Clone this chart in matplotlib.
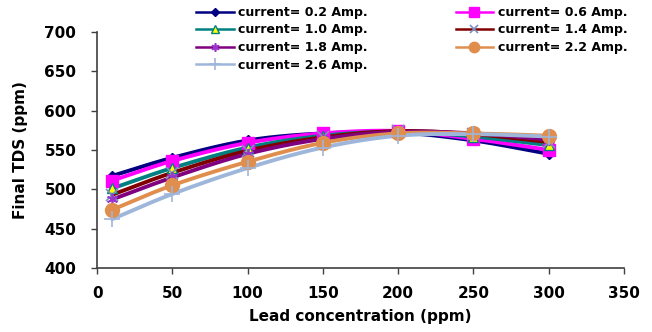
import numpy as np
import matplotlib
matplotlib.use("Agg")
import matplotlib.pyplot as plt
from matplotlib.lines import Line2D

plt.rcParams['font.family'] = ['DejaVu Sans']
plt.rcParams['font.weight'] = 'bold'

lead_ppm = [10, 50, 100, 150, 200, 250, 300]
labels = ["current= 0.2 Amp.", "current= 0.6 Amp.", "current= 1.0 Amp.",
          "current= 1.4 Amp.", "current= 1.8 Amp.", "current= 2.2 Amp.",
          "current= 2.6 Amp."]
tds_02 = [517, 540, 562, 571, 572, 562, 545]
tds_06 = [511, 536, 559, 571, 574, 564, 550]
tds_10 = [501, 527, 553, 568, 573, 567, 556]
tds_14 = [493, 521, 549, 566, 574, 570, 560]
tds_18 = [487, 515, 545, 564, 573, 571, 563]
tds_22 = [474, 505, 535, 559, 571, 571, 568]
tds_26 = [462, 494, 527, 553, 568, 570, 567]
series = [tds_02, tds_06, tds_10, tds_14, tds_18, tds_22, tds_26]

styles = [
    dict(color='#000080', marker='D', ms=5, mfc='#000080', mec='#000080', mew=1),
    dict(color='#FF00FF', marker='s', ms=9, mfc='#FF00FF', mec='#FF00FF', mew=1),
    dict(color='#008080', marker='^', ms=7, mfc='#FFFF00', mec='#008080', mew=1),
    dict(color='#800000', marker='x', ms=8, mfc='none', mec='#7F8FBF', mew=1.2),
    dict(color='#800080', marker=(6, 2, 0), ms=8, mfc='none', mec='#9933CC', mew=1.2),
    dict(color='#E08E4E', marker='o', ms=10, mfc='#E08E4E', mec='#E08E4E', mew=1),
    dict(color='#9FB6DB', marker='+', ms=12, mfc='none', mec='#9FB6DB', mew=1.2),
]


def smooth(x, y, n=30, t=0.5):
    """Cardinal (Catmull-Rom style) spline through the points."""
    x = np.asarray(x, float)
    y = np.asarray(y, float)
    px = np.concatenate([[2 * x[0] - x[1]], x, [2 * x[-1] - x[-2]]])
    py = np.concatenate([[2 * y[0] - y[1]], y, [2 * y[-1] - y[-2]]])
    xs, ys = [], []
    s = np.linspace(0, 1, n)
    for i in range(1, len(px) - 2):
        p0, p1, p2, p3 = (np.array([px[j], py[j]]) for j in range(i - 1, i + 3))
        m1 = t * (p2 - p0)
        m2 = t * (p3 - p1)
        h00 = 2 * s**3 - 3 * s**2 + 1
        h10 = s**3 - 2 * s**2 + s
        h01 = -2 * s**3 + 3 * s**2
        h11 = s**3 - s**2
        pts = (np.outer(h00, p1) + np.outer(h10, m1)
               + np.outer(h01, p2) + np.outer(h11, m2))
        xs.extend(pts[:, 0])
        ys.extend(pts[:, 1])
    return np.array(xs), np.array(ys)


fig = plt.figure(figsize=(6.52, 3.32), dpi=100)
ax = fig.add_axes([0.149, 0.193, 0.808, 0.711])

handles = []
for y, st, lab in zip(series, styles, labels):
    sx, sy = smooth(lead_ppm, y)
    ax.plot(sx, sy, color=st['color'], lw=2.8, solid_capstyle='round', zorder=2)
    ax.plot(lead_ppm, y, ls='none', marker=st['marker'], ms=st['ms'],
            mfc=st['mfc'], mec=st['mec'], mew=st['mew'], zorder=3)
    handles.append(Line2D([], [], color=st['color'], lw=1.8, marker=st['marker'],
                          ms=st['ms'] * 0.75, mfc=st['mfc'], mec=st['mec'],
                          mew=st['mew']))

ax.set_xlim(0, 350)
ax.set_ylim(400, 700)
ax.set_xticks(range(0, 351, 50))
ax.set_yticks(range(400, 701, 50))
for sp in ['top', 'right']:
    ax.spines[sp].set_visible(False)
for sp in ['left', 'bottom']:
    ax.spines[sp].set_color('#404040')
    ax.spines[sp].set_linewidth(1.2)
ax.tick_params(axis='both', direction='out', length=4, width=1, colors='#404040',
               labelcolor='black', labelsize=11)
ax.tick_params(axis='y', pad=11)
ax.tick_params(axis='x', pad=9)
for lbl in ax.get_xticklabels() + ax.get_yticklabels():
    lbl.set_fontweight('bold')

ax.set_xlabel('Lead concentration (ppm)', fontsize=11, fontweight='bold', labelpad=6)
ax.set_ylabel('Final TDS (ppm)', fontsize=11, fontweight='bold', labelpad=12)

# two-column legend filled row by row
order = [0, 2, 4, 6, 1, 3, 5]
leg = fig.legend(handles=[handles[i] for i in order],
                 labels=[labels[i] for i in order], ncol=2, frameon=False,
                 loc='upper left', bbox_to_anchor=(196 / 652, 1 - 6 / 332),
                 prop={'size': 9, 'weight': 'bold'},
                 handlelength=3.0, handletextpad=0.4, columnspacing=7.0,
                 labelspacing=0.36, borderpad=0, borderaxespad=0)

fig.savefig('out.png', dpi=100)
